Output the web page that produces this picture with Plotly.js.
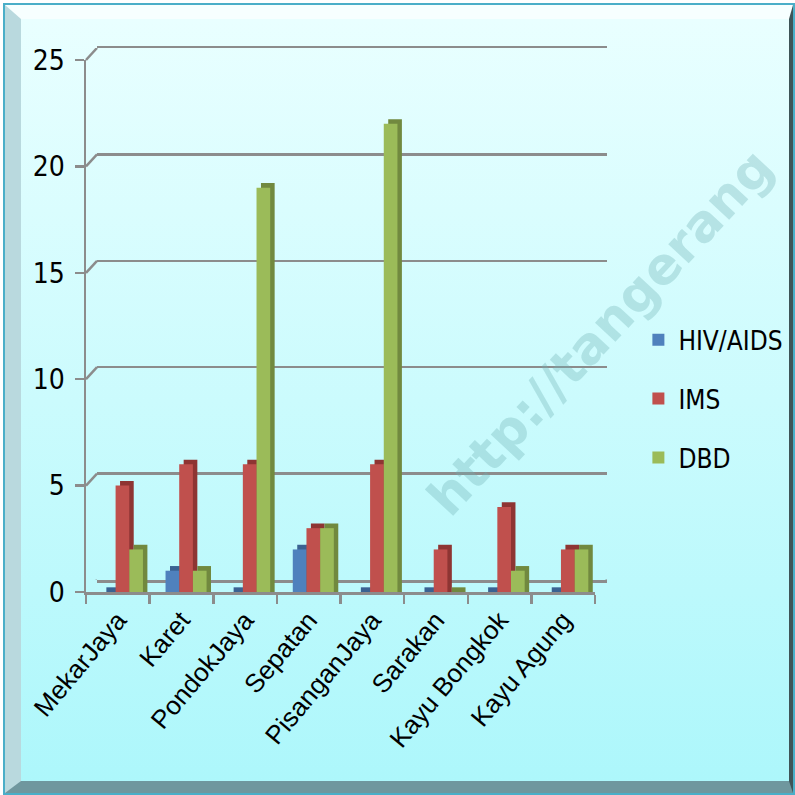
<!DOCTYPE html>
<html><head><meta charset="utf-8">
<script src="https://cdn.plot.ly/plotly-3.0.1.min.js"></script>
<style>
html,body{margin:0;padding:0;width:795px;height:795px;overflow:hidden;background:#ffffff}
#frame{position:absolute;left:3px;top:3px;width:792px;height:792px;box-sizing:border-box;border:2px solid #4aaec8;}
#bevel{position:absolute;left:0;top:0;right:0;bottom:0;box-sizing:border-box;
 border-top:14px solid #f7ffff;border-left:16px solid #b9d9de;border-bottom:12px solid #6f979e;border-right:4px solid #3e5457;
 background:linear-gradient(#e9ffff,#adf7fb);}
#chart{position:absolute;left:0;top:0;width:795px;height:795px;}
</style></head>
<body>
<div id="frame"><div id="bevel"></div></div>
<div id="chart"></div>
<script>
// ---- data ----
var categories = ['MekarJaya','Karet','PondokJaya','Sepatan','PisanganJaya','Sarakan','Kayu Bongkok','Kayu Agung'];
var seriesNames = ['HIV/AIDS','IMS','DBD'];
var hivAids = [0,1,0,2,0,0,0,0];
var ims     = [5,6,6,3,6,2,4,2];
var dbd     = [2,1,19,3,22,0,1,2];
var yTicks  = [0,5,10,15,20,25];
var watermark = 'http://tangerang';

// ---- styling ----
var W = 795, H = 795;
var frontColors = ['#4f81bd','#c0504d','#9bbb59'];
var sideColors  = ['#3a6292','#8e3533','#71893f'];
var offsets = [-0.25,-0.035,0.18];
var barW = 0.215;
var depthX = 0.07, depthY = 0.22;
var px = function(v){return v/W;};
var py = function(v){return (H-v)/H;};
// front plane (bars/axes) and back wall (grid) in pixels
var front = {x0:86, x1:595, yTop:60, yBot:592};
var back  = {x0:97, x1:607, yTop:48, yBot:580};
var dy = front.yBot-back.yBot;
var gridColor = '#8c8c8c';

var allSeries = [hivAids, ims, dbd];
var traces = [];
// holder trace for the back-wall grid (first subplot -> drawn beneath the bars)
traces.push({type:'scatter',x:[0],y:[0],xaxis:'x',yaxis:'y',mode:'markers',marker:{opacity:0},showlegend:false,hoverinfo:'skip'});
allSeries.forEach(function(vals,i){
  traces.push({type:'bar',x:categories,y:vals.map(function(v){return v+depthY;}),base:0,offset:offsets[i]+depthX,width:barW,
    xaxis:'x2',yaxis:'y2',marker:{color:sideColors[i],line:{width:0}},showlegend:false,legendgroup:'g'+i,hoverinfo:'skip'});
  traces.push({type:'bar',x:categories,y:vals,offset:offsets[i],width:barW,name:seriesNames[i],
    xaxis:'x2',yaxis:'y2',marker:{color:frontColors[i],line:{width:0}},legendgroup:'g'+i});
});

var shapes = [];
yTicks.forEach(function(v){
  shapes.push({type:'line',xref:'paper',yref:'y',ysizemode:'pixel',yanchor:v,
    x0:px(front.x0),x1:px(back.x0),y0:-dy,y1:0,line:{color:gridColor,width:2.5},layer:'below'});
});
shapes.push({type:'line',xref:'paper',yref:'y',ysizemode:'pixel',yanchor:0,
  x0:px(front.x1),x1:px(back.x1),y0:-dy,y1:0,line:{color:gridColor,width:2.5},layer:'below'});

var tickFont = {family:'"Liberation Sans Narrow","DejaVu Sans Condensed","Liberation Sans",sans-serif',size:28,color:'#000'};

var layout = {
  width:W,height:H,margin:{l:0,r:0,t:0,b:0},
  paper_bgcolor:'rgba(0,0,0,0)',plot_bgcolor:'rgba(0,0,0,0)',
  barmode:'overlay',
  showlegend:true,
  xaxis:{domain:[px(back.x0),px(back.x1)],anchor:'y',range:[0,1],showticklabels:false,ticks:'',showgrid:false,zeroline:false,
    showline:true,mirror:true,linecolor:gridColor,linewidth:2.5,fixedrange:true},
  yaxis:{domain:[py(back.yBot),py(back.yTop)],anchor:'x',range:[0,25],tickvals:yTicks,showgrid:true,gridcolor:gridColor,gridwidth:2.5,
    zeroline:false,showticklabels:false,ticks:'',showline:false},
  xaxis2:{domain:[px(front.x0),px(front.x1)],anchor:'y2',type:'category',range:[-0.5,7.5],tickson:'boundaries',
    ticks:'outside',ticklen:9,tickwidth:2.5,tickcolor:gridColor,showline:true,linecolor:gridColor,linewidth:2.5,
    showgrid:false,tickangle:-50,tickfont:{family:'"Liberation Sans",Arial,sans-serif',size:26,color:'#000'}},
  yaxis2:{domain:[py(front.yBot),py(front.yTop)],anchor:'x2',range:[0,25],tickvals:yTicks,
    ticks:'outside',ticklen:9,tickwidth:2.5,tickcolor:gridColor,showline:true,linecolor:gridColor,linewidth:2.5,
    showgrid:false,zeroline:false,tickfont:tickFont,ticklabelstandoff:4},
  legend:{x:0.803,y:0.602,xanchor:'left',yanchor:'top',bgcolor:'rgba(0,0,0,0)',traceorder:'grouped',tracegroupgap:22,
    font:{family:'"Liberation Sans Narrow","DejaVu Sans Condensed","Liberation Sans",sans-serif',size:26,color:'#000'}},
  shapes:shapes,
  annotations:[{text:watermark,xref:'paper',yref:'paper',x:px(600),y:py(332),xanchor:'center',yanchor:'middle',showarrow:false,textangle:-47,
    font:{family:'"DejaVu Sans",sans-serif',size:51,color:'rgba(110,175,180,0.33)',weight:'bold'}}]
};
Plotly.newPlot('chart',traces,layout,{displayModeBar:false,staticPlot:true});
</script>
</body></html>
